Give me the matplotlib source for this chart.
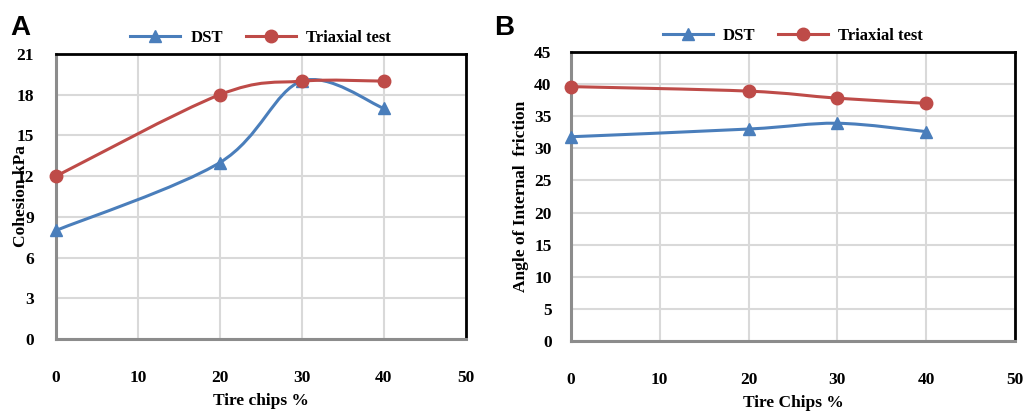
"""Cohesion and friction angle vs tire chip content, DST vs triaxial (two panels)."""

import matplotlib
matplotlib.use("Agg")
import matplotlib.pyplot as plt
import numpy as np
from matplotlib.lines import Line2D
from matplotlib.patches import PathPatch
from matplotlib.path import Path

BLUE = "#4A7EBB"
RED = "#BE4B48"
SERIF = "Liberation Serif"

tire_pct = [0, 20, 30, 40]
cohesion_dst = [8, 13, 19, 17]
cohesion_triax = [12, 18, 19, 19]
phi_dst = [31.8, 33.0, 33.9, 32.6]
phi_triax = [39.6, 38.9, 37.8, 37.0]


def smooth_path(x, y):
    """Excel-style smoothed line: cubic Bezier segments through every point."""
    p = np.column_stack([x, y]).astype(float)
    ext = np.vstack([p[:1], p, p[-1:]])
    verts, codes = [p[0]], [Path.MOVETO]
    for i in range(len(p) - 1):
        p0, p1, p2, p3 = ext[i], ext[i + 1], ext[i + 2], ext[i + 3]
        verts += [p1 + (p2 - p0) / 6, p2 - (p3 - p1) / 6, p2]
        codes += [Path.CURVE4] * 3
    return Path(verts, codes)


def draw_panel(ax, ytop, ystep, dst, triax, ylabel, xlabel, ypad):
    ax.set_xlim(0, 50)
    ax.set_ylim(0, ytop)
    ax.set_xticks(range(0, 51, 10))
    ax.set_yticks(np.arange(0, ytop + 0.1, ystep))
    ax.grid(color="#D9D9D9", linewidth=1.5)
    ax.set_axisbelow(True)
    for s in ("left", "bottom"):
        ax.spines[s].set_color("#8C8C8C")
        ax.spines[s].set_linewidth(2.2)
    for s in ("top", "right"):
        ax.spines[s].set_color("black")
        ax.spines[s].set_linewidth(2.0)
    ax.tick_params(length=0, labelsize=12.5)
    ax.tick_params(axis="x", pad=22)
    ax.tick_params(axis="y", pad=ypad)
    for lab in ax.get_xticklabels() + ax.get_yticklabels():
        lab.set_fontfamily(SERIF)
        lab.set_fontweight("bold")

    for vals, col, mk, ms in ((dst, BLUE, "^", 8), (triax, RED, "o", 9)):
        ax.add_patch(PathPatch(smooth_path(tire_pct, vals), facecolor="none",
                               edgecolor=col, linewidth=2.2, clip_on=False, zorder=3))
        ax.plot(tire_pct, vals, linestyle="none", marker=mk, markersize=ms,
                color=col, clip_on=False, zorder=4)

    ax.set_xlabel(xlabel, fontfamily=SERIF, fontweight="bold", fontsize=12.5,
                  labelpad=5)
    ax.set_ylabel(ylabel, fontfamily=SERIF, fontweight="bold", fontsize=12.5)

    handles = [Line2D([], [], color=BLUE, marker="^", markersize=8, linewidth=2.2),
               Line2D([], [], color=RED, marker="o", markersize=9, linewidth=2.2)]
    ax.legend(handles, ["DST", "Triaxial test"], loc="lower center",
              bbox_to_anchor=(0.5, 1.0), ncol=2, frameon=False, handlelength=3.0,
              handletextpad=0.6, columnspacing=1.4, borderaxespad=0.1,
              prop=dict(family=SERIF, weight="bold", size=12))
    return ax


fig = plt.figure(figsize=(10.24, 4.12), dpi=100)
ax_a = fig.add_axes([0.0547, 0.177, 0.400, 0.692])
ax_b = fig.add_axes([0.5576, 0.172, 0.4334, 0.702])

draw_panel(ax_a, 21, 3, cohesion_dst, cohesion_triax, "Cohesion kPa",
           "Tire chips %", 16)
draw_panel(ax_b, 45, 5, phi_dst, phi_triax, "Angle of Internal  friction",
           "Tire Chips %", 14)
ax_a.yaxis.set_label_coords(-0.065, 0.5)
ax_b.yaxis.set_label_coords(-0.095, 0.5)

fig.text(0.010, 0.915, "A", fontfamily="Liberation Sans", fontweight="bold",
         fontsize=20)
fig.text(0.483, 0.915, "B", fontfamily="Liberation Sans", fontweight="bold",
         fontsize=20)

fig.savefig("out.png", dpi=100)
